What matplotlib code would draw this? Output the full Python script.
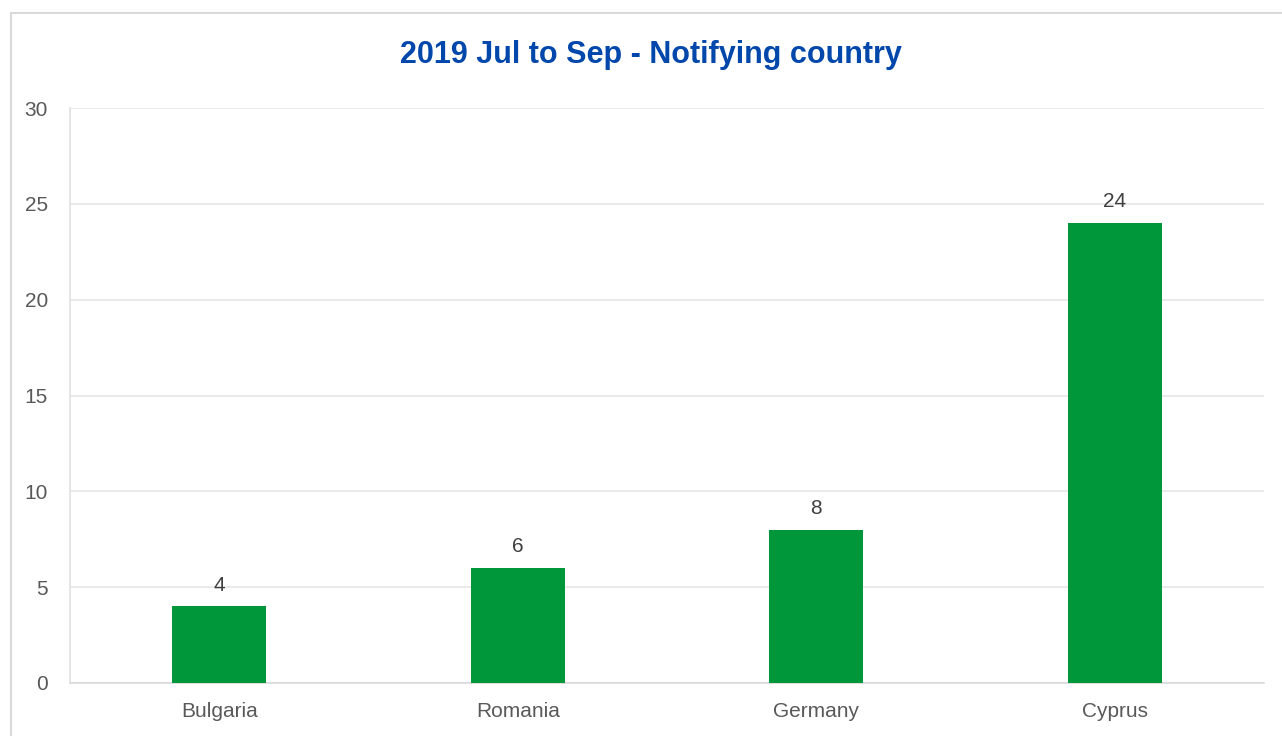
import matplotlib
matplotlib.use("Agg")
import matplotlib.pyplot as plt
from matplotlib.patches import Rectangle

countries = ["Bulgaria", "Romania", "Germany", "Cyprus"]
counts = [4, 6, 8, 24]
yticks = [0, 5, 10, 15, 20, 25, 30]

plt.rcParams['font.family'] = ['Liberation Sans Narrow', 'Liberation Sans', 'DejaVu Sans']

fig = plt.figure(figsize=(12.82, 7.36), dpi=100)
ax = fig.add_axes([70 / 1282, 1 - 683 / 736, 1194 / 1282, 575 / 736])

x = range(len(countries))
bars = ax.bar(x, counts, width=0.315, color="#00963A", zorder=3)
for b, v in zip(bars, counts):
    ax.text(b.get_x() + b.get_width() / 2, v + 0.6, str(v), ha="center", va="bottom",
            fontsize=15, color="#404040", zorder=4)

ax.set_xlim(-0.5, 3.5)
ax.set_ylim(0, 30)
ax.set_yticks(yticks)
ax.set_xticks(list(x))
ax.set_xticklabels(countries)
ax.tick_params(axis="both", length=0, labelsize=15, colors="#595959")
ax.tick_params(axis="y", pad=16)
ax.tick_params(axis="x", pad=14)
ax.grid(axis="y", color="#e6e6e6", linewidth=1.2, zorder=0)
for s in ["top", "right"]:
    ax.spines[s].set_visible(False)
ax.spines["left"].set_color("#e0e0e0")
ax.spines["bottom"].set_color("#d9d9d9")
ax.spines["left"].set_linewidth(1.2)
ax.spines["bottom"].set_linewidth(1.2)

fig.text(651 / 1282, 1 - 55 / 736, "2019 Jul to Sep - Notifying country", ha="center", va="center",
         fontsize=22, fontweight="bold", color="#0047AB")

fig.patches.append(Rectangle((10.5 / 1282, -0.05), 1.1, 1 - 12.5 / 736 + 0.05,
                             transform=fig.transFigure, fill=False,
                             edgecolor="#d9d9d9", linewidth=1.5))

fig.savefig("out.png", dpi=100)
